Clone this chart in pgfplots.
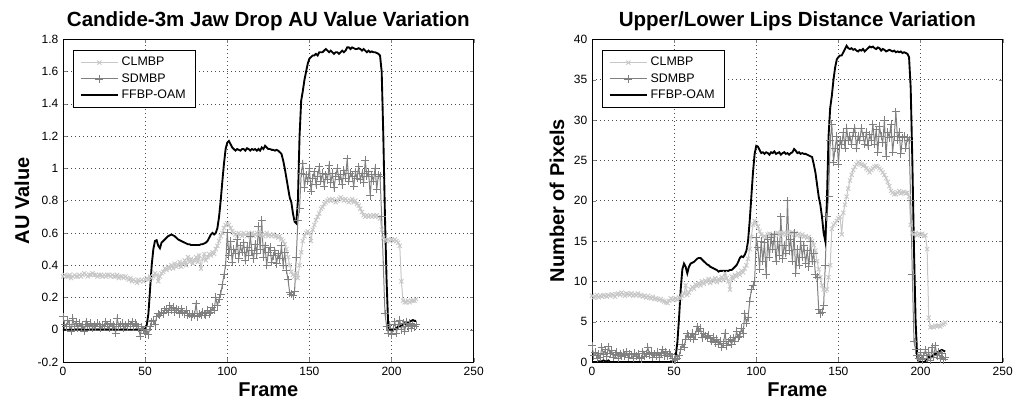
\documentclass[border=0pt]{standalone}
\usepackage{pgfplots}
\pgfplotsset{compat=1.18}
\usepackage{pgfplotstable}
\usepackage{fontspec}
\setmainfont{Liberation Sans}

% one value per frame (frame = row index 0..215)
% ---- left: Jaw Drop AU value ----
\pgfplotstableread[row sep=\\,header=false]{
0.33\\0.34\\0.33\\0.33\\0.34\\0.32\\0.33\\0.34\\0.33\\0.33\\
0.34\\0.33\\0.34\\0.35\\0.34\\0.33\\0.34\\0.34\\0.35\\0.34\\
0.34\\0.33\\0.34\\0.34\\0.33\\0.34\\0.33\\0.34\\0.34\\0.33\\
0.34\\0.33\\0.33\\0.34\\0.32\\0.33\\0.33\\0.32\\0.33\\0.32\\
0.31\\0.32\\0.30\\0.31\\0.30\\0.29\\0.31\\0.30\\0.31\\0.30\\
0.31\\0.32\\0.31\\0.33\\0.32\\0.33\\0.35\\0.34\\0.30\\0.33\\
0.35\\0.36\\0.38\\0.37\\0.39\\0.38\\0.40\\0.38\\0.41\\0.39\\
0.40\\0.42\\0.39\\0.41\\0.43\\0.40\\0.45\\0.42\\0.44\\0.41\\
0.43\\0.45\\0.42\\0.46\\0.38\\0.44\\0.47\\0.43\\0.45\\0.47\\
0.46\\0.48\\0.47\\0.50\\0.52\\0.55\\0.58\\0.60\\0.63\\0.65\\
0.66\\0.65\\0.63\\0.61\\0.60\\0.59\\0.58\\0.60\\0.59\\0.58\\
0.60\\0.59\\0.58\\0.60\\0.59\\0.60\\0.58\\0.59\\0.60\\0.59\\
0.60\\0.59\\0.58\\0.59\\0.60\\0.58\\0.59\\0.58\\0.59\\0.58\\
0.58\\0.57\\0.58\\0.56\\0.55\\0.53\\0.50\\0.45\\0.40\\0.36\\
0.34\\0.33\\0.35\\0.32\\0.40\\0.48\\0.55\\0.58\\0.60\\0.61\\
0.60\\0.55\\0.62\\0.65\\0.68\\0.70\\0.72\\0.75\\0.76\\0.78\\
0.79\\0.80\\0.81\\0.80\\0.81\\0.80\\0.79\\0.80\\0.81\\0.82\\
0.81\\0.80\\0.81\\0.80\\0.79\\0.80\\0.81\\0.79\\0.80\\0.78\\
0.77\\0.75\\0.73\\0.71\\0.70\\0.71\\0.70\\0.71\\0.70\\0.71\\
0.70\\0.71\\0.70\\0.69\\0.62\\0.57\\0.56\\0.55\\0.56\\0.55\\
0.56\\0.55\\0.56\\0.55\\0.54\\0.52\\0.30\\0.18\\0.17\\0.17\\
0.18\\0.17\\0.18\\0.18\\0.18\\0.19\\
}\lclm

\pgfplotstableread[row sep=\\,header=false]{
0.08\\0.03\\0.02\\0.06\\0.03\\-0.01\\0.07\\0.02\\0.05\\0.01\\
0.04\\0.02\\0.03\\-0.01\\0.05\\0.03\\0.02\\0.04\\0.01\\0.03\\
0.02\\0.04\\0.03\\0.01\\0.03\\0.02\\0.05\\0.03\\0.01\\0.04\\
0.02\\0.03\\-0.02\\0.07\\0.02\\0.03\\0.04\\0.01\\0.03\\0.02\\
0.04\\0.03\\0.05\\0.02\\0.04\\0.03\\0.01\\-0.04\\0.02\\0.00\\
-0.02\\0.00\\-0.03\\0.02\\0.05\\0.06\\0.03\\0.08\\0.10\\0.09\\
0.11\\0.10\\0.12\\0.13\\0.11\\0.15\\0.12\\0.14\\0.11\\0.13\\
0.12\\0.10\\0.13\\0.11\\0.10\\0.12\\0.09\\0.10\\0.08\\0.10\\
0.09\\0.16\\0.08\\0.10\\0.09\\0.11\\0.10\\0.09\\0.12\\0.10\\
0.11\\0.14\\0.12\\0.20\\0.15\\0.19\\0.22\\0.28\\0.34\\0.40\\
0.60\\0.46\\0.55\\0.42\\0.50\\0.47\\0.56\\0.44\\0.52\\0.48\\
0.54\\0.43\\0.51\\0.46\\0.58\\0.49\\0.44\\0.53\\0.47\\0.64\\
0.50\\0.68\\0.45\\0.52\\0.40\\0.48\\0.51\\0.42\\0.46\\0.49\\
0.41\\0.47\\0.44\\0.52\\0.40\\0.48\\0.37\\0.31\\0.23\\0.22\\
0.21\\0.24\\0.45\\0.68\\0.75\\0.97\\1.03\\0.88\\0.96\\0.92\\
1.00\\0.86\\0.94\\0.98\\0.90\\0.95\\1.01\\0.92\\0.97\\0.89\\
0.96\\0.93\\1.02\\0.91\\0.97\\0.88\\0.95\\1.00\\0.93\\0.96\\
0.90\\0.99\\0.94\\1.06\\0.92\\0.97\\0.95\\0.89\\0.98\\0.94\\
1.01\\0.93\\0.97\\0.91\\1.05\\0.95\\0.98\\0.83\\0.96\\0.92\\
1.00\\0.87\\0.96\\0.95\\0.70\\0.40\\0.10\\0.02\\-0.02\\0.03\\
-0.03\\0.01\\0.05\\-0.02\\0.03\\0.06\\0.00\\0.04\\-0.01\\0.05\\
0.02\\0.04\\0.01\\0.03\\0.02\\0.03\\
}\lsdm

\pgfplotstableread[row sep=\\,header=false]{
0\\0\\0\\0\\0\\0\\0\\0\\0\\0\\
0\\0\\0\\0\\0\\0\\0\\0\\0\\0\\
0\\0\\0\\0\\0\\0\\0\\0\\0\\0\\
0\\0\\0\\0\\0\\0\\0\\0\\0\\0\\
0\\0\\0\\0\\0\\0\\0\\0\\0\\0\\
0.005\\0.03\\0.1\\0.25\\0.4\\0.5\\0.55\\0.555\\0.52\\0.505\\
0.54\\0.55\\0.56\\0.57\\0.58\\0.585\\0.59\\0.585\\0.58\\0.57\\
0.56\\0.555\\0.55\\0.545\\0.54\\0.535\\0.53\\0.53\\0.525\\0.525\\
0.525\\0.525\\0.525\\0.525\\0.53\\0.53\\0.535\\0.54\\0.55\\0.57\\
0.59\\0.60\\0.59\\0.60\\0.63\\0.70\\0.80\\0.92\\1.03\\1.12\\
1.16\\1.17\\1.15\\1.13\\1.12\\1.11\\1.12\\1.115\\1.11\\1.12\\
1.12\\1.11\\1.125\\1.12\\1.11\\1.12\\1.115\\1.12\\1.11\\1.12\\
1.11\\1.13\\1.12\\1.14\\1.13\\1.12\\1.12\\1.115\\1.115\\1.11\\
1.115\\1.11\\1.10\\1.09\\1.05\\1.00\\0.94\\0.88\\0.82\\0.79\\
0.72\\0.67\\0.66\\0.80\\1.20\\1.42\\1.48\\1.55\\1.60\\1.65\\
1.68\\1.69\\1.70\\1.70\\1.71\\1.70\\1.72\\1.72\\1.72\\1.73\\
1.74\\1.73\\1.72\\1.73\\1.72\\1.71\\1.72\\1.72\\1.71\\1.72\\
1.73\\1.72\\1.73\\1.75\\1.75\\1.74\\1.75\\1.745\\1.74\\1.74\\
1.745\\1.74\\1.73\\1.74\\1.73\\1.72\\1.73\\1.72\\1.725\\1.72\\
1.72\\1.715\\1.71\\1.70\\1.60\\1.20\\0.70\\0.30\\0.02\\0.00\\
0.00\\0.00\\0.005\\0.01\\0.02\\0.02\\0.025\\0.035\\0.04\\0.035\\
0.045\\0.05\\0.055\\0.06\\0.055\\0.055\\
}\lffbp

% ---- right: lips distance in pixels ----
\pgfplotstableread[row sep=\\,header=false]{
8.2\\8.0\\8.1\\8.3\\8.0\\8.2\\8.1\\8.3\\8.2\\8.1\\
8.3\\8.2\\8.4\\8.3\\8.1\\8.4\\8.5\\8.3\\8.6\\8.4\\
8.2\\8.5\\8.4\\8.3\\8.5\\8.2\\8.4\\8.3\\8.5\\8.2\\
8.3\\8.1\\8.2\\8.0\\8.2\\8.0\\7.9\\8.1\\7.8\\7.9\\
7.8\\7.7\\7.8\\7.6\\7.5\\7.4\\7.3\\7.6\\7.9\\7.7\\
7.8\\7.9\\7.7\\8.0\\7.9\\8.2\\8.5\\9.5\\8.3\\8.6\\
9.0\\9.3\\9.1\\9.6\\9.4\\9.8\\9.5\\10.0\\9.7\\10.1\\
9.9\\10.3\\9.8\\10.2\\10.0\\10.4\\9.9\\10.3\\10.1\\10.5\\
10.2\\11.0\\10.4\\10.0\\9.0\\10.6\\10.3\\10.8\\10.6\\11.0\\
10.8\\11.3\\11.1\\11.6\\12.0\\12.8\\14.0\\15.5\\17.0\\17.5\\
17.2\\16.8\\16.2\\15.8\\15.5\\15.6\\15.4\\15.8\\15.9\\15.6\\
15.8\\15.7\\15.9\\16.0\\15.8\\16.1\\15.9\\16.0\\15.8\\16.1\\
16.0\\15.9\\16.1\\15.8\\16.0\\15.7\\15.9\\15.6\\15.8\\15.5\\
15.6\\15.4\\15.5\\15.2\\15.0\\14.5\\13.8\\12.5\\11.5\\10.5\\
9.5\\9.0\\8.8\\9.0\\10.5\\12.0\\16.5\\17.0\\17.2\\17.5\\
17.8\\18.0\\15.8\\18.5\\19.5\\20.5\\21.5\\22.5\\23.2\\23.8\\
24.2\\24.5\\24.8\\24.6\\24.5\\24.3\\24.4\\24.0\\23.8\\23.5\\
23.8\\24.0\\24.2\\24.3\\24.2\\24.0\\23.8\\23.5\\23.2\\22.8\\
22.3\\21.8\\21.2\\21.0\\20.8\\20.8\\21.0\\21.2\\20.9\\21.0\\
21.1\\20.9\\21.0\\20.5\\17.0\\16.0\\15.8\\16.0\\15.7\\15.9\\
15.8\\15.9\\15.6\\15.7\\14.0\\5.5\\4.3\\4.4\\4.3\\4.5\\
4.4\\4.5\\4.4\\4.6\\4.7\\4.9\\
}\rclm

\pgfplotstableread[row sep=\\,header=false]{
2.0\\0.8\\1.2\\0.5\\1.0\\0.6\\1.8\\0.9\\1.5\\0.7\\
1.9\\1.0\\1.4\\0.6\\0.9\\1.2\\0.5\\1.0\\0.7\\1.1\\
0.8\\1.3\\0.6\\1.0\\0.9\\0.5\\1.1\\0.7\\1.0\\0.6\\
0.4\\1.3\\0.7\\1.0\\1.8\\0.9\\1.2\\0.6\\1.0\\0.8\\
1.2\\0.6\\1.0\\1.5\\0.8\\1.3\\0.7\\1.1\\0.9\\0.4\\
0.2\\0.3\\0.5\\0.8\\1.5\\2.2\\1.8\\2.8\\3.5\\3.2\\
3.0\\3.6\\2.8\\3.4\\4.4\\3.8\\4.2\\3.0\\3.6\\3.2\\
3.0\\3.3\\2.9\\2.6\\3.1\\2.4\\2.8\\2.2\\2.6\\1.8\\
2.3\\3.6\\2.0\\2.5\\2.8\\2.2\\3.0\\2.6\\3.8\\3.0\\
3.2\\4.2\\3.5\\6.0\\4.8\\5.5\\7.5\\9.0\\9.5\\10.0\\
15.5\\14.2\\11.5\\15.0\\12.5\\14.8\\10.8\\15.2\\13.0\\15.5\\
14.0\\15.8\\12.5\\15.0\\13.2\\18.0\\12.8\\14.5\\13.5\\20.0\\
13.8\\15.2\\12.5\\16.0\\11.0\\14.0\\12.0\\15.0\\13.0\\14.5\\
12.2\\13.8\\11.8\\15.0\\12.5\\13.5\\10.8\\10.5\\6.5\\6.0\\
6.2\\7.0\\12.0\\18.0\\20.5\\27.5\\29.5\\24.8\\26.5\\28.0\\
24.5\\27.5\\27.0\\28.5\\26.5\\29.0\\27.5\\28.0\\27.0\\28.5\\
29.0\\26.5\\28.0\\27.5\\29.0\\28.0\\27.0\\28.5\\26.8\\28.2\\
27.5\\29.5\\27.0\\28.8\\26.0\\29.2\\28.0\\27.2\\30.0\\25.5\\
28.5\\27.8\\29.5\\26.0\\28.0\\31.0\\27.5\\28.5\\25.8\\27.8\\
28.0\\26.5\\27.8\\27.5\\20.0\\10.8\\2.5\\1.5\\0.8\\0.5\\
1.2\\0.3\\0.8\\1.5\\0.5\\1.2\\0.2\\1.8\\0.6\\2.0\\
0.8\\1.2\\0.4\\1.0\\0.3\\0.6\\
}\rsdm

\pgfplotstableread[row sep=\\,header=false]{
0\\0\\0\\0\\0.1\\0.1\\0.1\\0.2\\0.1\\0.1\\
0.2\\0\\0\\0\\0\\0\\0\\0\\0\\0\\
0\\0\\0\\0\\0\\0\\0\\0\\0\\0\\
0\\0\\0\\0\\0\\0\\0\\0\\0\\0\\
0\\0\\0\\0\\0\\0\\0\\0\\0\\0\\
0.1\\0.8\\2.5\\5.5\\9.0\\11.5\\12.2\\11.8\\11.0\\11.8\\
12.2\\12.3\\12.4\\12.6\\12.8\\12.9\\12.9\\12.7\\12.5\\12.3\\
12.1\\12.0\\11.8\\11.7\\11.6\\11.5\\11.4\\11.2\\11.3\\11.3\\
11.3\\11.3\\11.3\\11.3\\11.4\\11.4\\11.6\\11.8\\12.0\\12.4\\
12.9\\13.1\\13.0\\13.3\\13.8\\15.0\\17.5\\20.5\\23.5\\25.8\\
26.8\\26.7\\26.3\\25.9\\26.0\\25.8\\26.0\\25.9\\25.7\\26.0\\
25.9\\26.1\\25.8\\25.9\\26.0\\25.7\\25.9\\26.0\\25.8\\25.9\\
25.7\\25.9\\26.0\\26.4\\26.2\\25.9\\26.0\\25.8\\25.9\\25.8\\
25.8\\25.7\\25.6\\25.5\\25.4\\24.5\\23.5\\22.0\\20.5\\19.5\\
18.0\\16.0\\15.0\\20.0\\28.0\\31.5\\33.0\\35.0\\36.5\\37.5\\
37.8\\38.0\\38.0\\38.4\\38.8\\39.2\\38.9\\38.8\\38.9\\38.7\\
38.8\\38.6\\38.5\\38.7\\38.6\\38.8\\38.5\\38.7\\38.9\\39.1\\
39.0\\39.1\\38.9\\38.8\\39.0\\38.9\\38.6\\38.8\\38.7\\38.5\\
38.6\\38.7\\38.6\\38.5\\38.6\\38.4\\38.5\\38.4\\38.5\\38.3\\
38.4\\38.3\\38.2\\37.8\\34.0\\25.0\\14.0\\5.0\\0.5\\0.0\\
0.0\\0.0\\0.0\\0.1\\0.3\\0.6\\0.5\\0.7\\0.9\\1.0\\
1.1\\1.3\\1.4\\1.5\\1.4\\1.3\\
}\rffbp

\definecolor{clmgray}{gray}{0.78}
\definecolor{sdmgray}{gray}{0.50}

\pgfplotsset{
  matstyle/.style={
    scale only axis,
    width=308pt, height=242pt,
    xmin=0, xmax=250, xtick={0,50,...,250},
    tick align=inside, major tick length=3pt,
    axis line style={line width=0.6pt},
    grid=major,
    major grid style={black!70, line width=0.5pt, dash pattern=on 0.6pt off 2.4pt},
    tick label style={font=\fontsize{9}{10}\selectfont},
    /pgf/number format/assume math mode=true,
    title style={font=\bfseries\fontsize{15.4}{18}\selectfont, at={(axis description cs:0.5,1.032)}, anchor=center},
    label style={font=\bfseries\fontsize{15}{17}\selectfont},
    xlabel style={at={(axis description cs:0.5,-0.087)}, anchor=center},
    legend style={at={(axis description cs:0.024,0.966)}, anchor=north west,
      draw=black, fill=white,
      font=\fontsize{9.3}{11}\selectfont, legend cell align=left,
      inner xsep=5pt, inner ysep=3pt, row sep=0.3pt},
    legend image code/.code={\draw[mark repeat=2,mark phase=2,##1]
      plot coordinates {(0pt,0pt) (14pt,0pt) (28pt,0pt)};},
    clm/.style={clmgray, line width=0.75pt, mark=x, mark size=2.2pt, mark options={line width=0.65pt}},
    sdm/.style={sdmgray, line width=0.75pt, mark=+, mark size=3pt, mark options={line width=0.65pt}},
    ffbp/.style={black, line width=1.4pt, no markers},
  },
}

\begin{document}
\begin{tikzpicture}
\useasboundingbox (-47.25pt,-30pt) rectangle (714.75pt,271.5pt);

\begin{axis}[matstyle,
    at={(0pt,0pt)}, anchor=south west,
    ymin=-0.2, ymax=1.8, ytick={-0.2,0,...,1.8},
    yticklabel style={/pgf/number format/fixed},
    title={Candide-3m Jaw Drop AU Value Variation},
    xlabel={Frame}, ylabel={AU Value},
    ylabel style={at={(axis description cs:-0.1,0.5)}, anchor=center},
]
\addplot[clm] table[x expr=\coordindex, y index=0] {\lclm};
\addplot[sdm] table[x expr=\coordindex, y index=0] {\lsdm};
\addplot[ffbp] table[x expr=\coordindex, y index=0] {\lffbp};
\legend{CLMBP, SDMBP, FFBP-OAM}
\end{axis}

\begin{axis}[matstyle,
    at={(396.75pt,0pt)}, anchor=south west,
    ymin=0, ymax=40, ytick={0,5,...,40},
    title={Upper/Lower Lips Distance Variation},
    xlabel={Frame}, ylabel={Number of Pixels},
    ylabel style={at={(axis description cs:-0.085,0.5)}, anchor=center},
]
\addplot[clm] table[x expr=\coordindex, y index=0] {\rclm};
\addplot[sdm] table[x expr=\coordindex, y index=0] {\rsdm};
\addplot[ffbp] table[x expr=\coordindex, y index=0] {\rffbp};
\legend{CLMBP, SDMBP, FFBP-OAM}
\end{axis}
\end{tikzpicture}
\end{document}
